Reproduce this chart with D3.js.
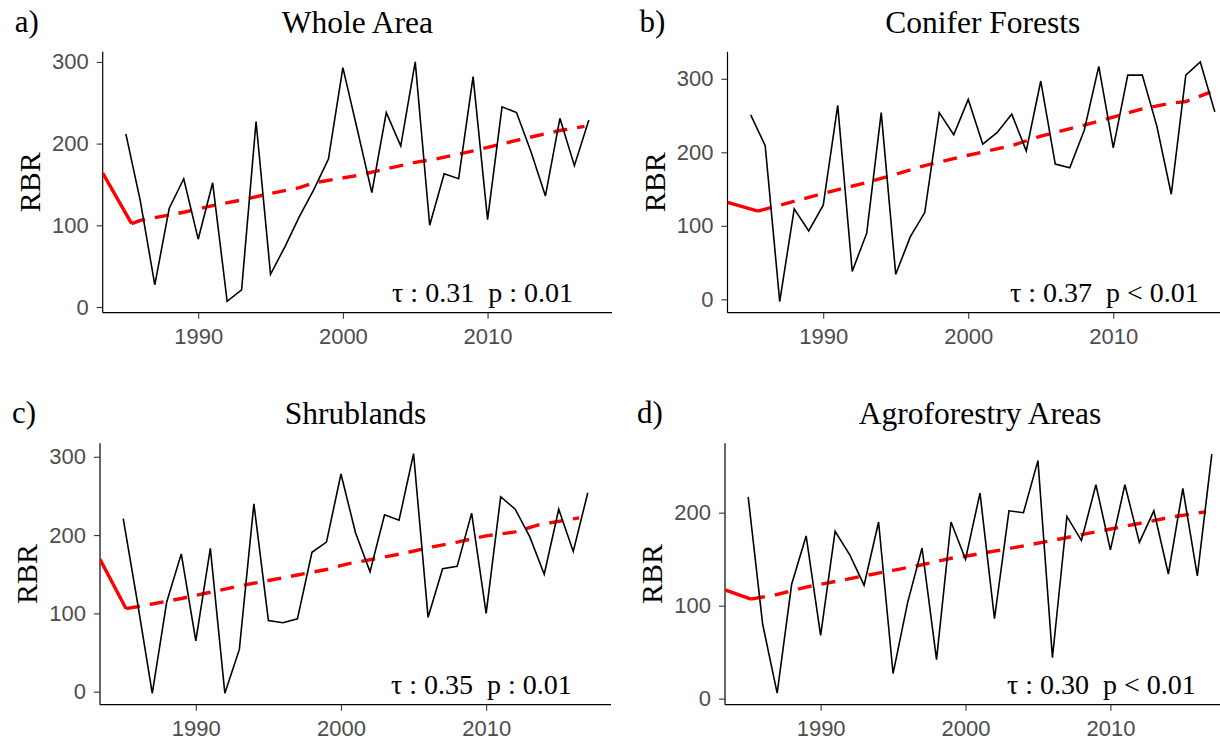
<!DOCTYPE html>
<html>
<head>
<meta charset="utf-8">
<script src="https://cdn.jsdelivr.net/npm/d3@7"></script>
<style>
  body { margin: 0; background: #fff; }
  svg { display: block; }
</style>
</head>
<body>
<div id="chart"></div>
<script>
// ---- data ----
var years = [1985, 1986, 1987, 1988, 1989, 1990, 1991, 1992, 1993, 1994,
             1995, 1996, 1997, 1998, 1999, 2000, 2001, 2002, 2003, 2004,
             2005, 2006, 2007, 2008, 2009, 2010, 2011, 2012, 2013, 2014,
             2015, 2016, 2017];

var rbrWhole   = [212, 130, 27, 121, 157, 83, 152, 7, 21, 227,
                  40, 74, 111, 144, 181, 293, 217, 140, 238, 197,
                  300, 100, 163, 157, 282, 107, 245, 238, 190, 136,
                  231, 173, 229];
var rbrConifer = [251, 209, -3, 123, 93, 128, 264, 38, 90, 254,
                  34, 85, 118, 254, 224, 272, 211, 227, 252, 202,
                  297, 184, 179, 230, 317, 206, 305, 305, 236, 143,
                  305, 323, 255];
var rbrShrub   = [221, 112, -2, 115, 176, 65, 183, -2, 54, 240,
                  91, 88, 93, 178, 191, 278, 203, 153, 226, 219,
                  304, 95, 157, 160, 228, 100, 249, 233, 198, 150,
                  233, 179, 254];
var rbrAgro    = [217, 80, 6, 123, 175, 68, 180, 155, 122, 190,
                  27, 103, 162, 42, 190, 150, 221, 86, 202, 200,
                  256, 44, 196, 170, 230, 160, 230, 168, 202, 134,
                  226, 132, 263];

// trend line (red), [year, RBR]; first leg solid, the rest dashed
var trendWhole   = [[1983.4, 164], [1985.4, 102], [1986, 106], [1989, 116], [1991, 124], [1993, 131],
                    [1995, 139], [1997, 146], [1998, 152], [2001, 161], [2005, 177], [2006.4, 181],
                    [2009, 191], [2012, 204], [2015, 216], [2016.7, 221]];
var trendConifer = [[1983.4, 132], [1985.5, 120], [1987, 128], [1990, 144], [1993, 159], [1995, 170],
                    [1997, 182], [2000, 196], [2003, 209], [2005, 222], [2008, 237], [2010, 248],
                    [2012, 259], [2014, 267], [2015, 269], [2016.7, 282]];
var trendShrub   = [[1983.4, 169], [1985.2, 106], [1987, 112], [1989, 119], [1991, 127], [1993, 135],
                    [1995, 142], [1997, 149], [1999, 156], [2000.4, 163], [2004.4, 177], [2006.3, 185],
                    [2008, 191], [2010, 199], [2012, 204], [2013.6, 213], [2016.4, 222]];
var trendAgro    = [[1983.4, 117], [1985.2, 107], [1987, 112], [1989, 120], [1991, 126], [1993, 132],
                    [1995, 138], [1997, 144], [1999, 151], [2000.3, 154], [2002.5, 160], [2004.6, 166],
                    [2006.6, 172], [2008.2, 177], [2010.2, 183], [2012.2, 189], [2014.1, 195], [2016.6, 201]];

var panelTags   = ["a)", "b)", "c)", "d)"];
var panelTitles = ["Whole Area", "Conifer Forests", "Shrublands", "Agroforestry Areas"];
var tauTexts    = ["\u03c4 : 0.31  p : 0.01", "\u03c4 : 0.37  p < 0.01", "\u03c4 : 0.35  p : 0.01", "\u03c4 : 0.30  p < 0.01"];
var xTicks = [1990, 2000, 2010];
var yTicksFull = [0, 100, 200, 300];
var yTicksAgro = [0, 100, 200];

// ---- layout ----
var W = 1220, H = 741;
var panels = [
  { values: rbrWhole,   trend: trendWhole,   yTicks: yTicksFull, yDom: [-7, 312.5],
    left: 102.7, right: 612, top: 51.7, bottom: 312.7 },
  { values: rbrConifer, trend: trendConifer, yTicks: yTicksFull, yDom: [-18.2, 336.9],
    left: 727.5, right: 1238, top: 51.7, bottom: 312.7 },
  { values: rbrShrub,   trend: trendShrub,   yTicks: yTicksFull, yDom: [-16.6, 317.2],
    left: 100, right: 611, top: 443.3, bottom: 704.7 },
  { values: rbrAgro,    trend: trendAgro,    yTicks: yTicksAgro, yDom: [-6.5, 274.6],
    left: 725, right: 1235, top: 443.3, bottom: 704.7 }
];

var svg = d3.select("#chart").append("svg")
    .attr("width", W)
    .attr("height", H);

var serif = "'Liberation Serif', 'Times New Roman', serif";
var sans = "'Liberation Sans', Arial, sans-serif";

panels.forEach(function (p, i) {
    var x = d3.scaleLinear().domain([1983.4, 2018.6]).range([p.left, p.right]);
    var y = d3.scaleLinear().domain(p.yDom).range([p.bottom, p.top]);

    var g = svg.append("g");

    g.append("defs").append("clipPath")
        .attr("id", "clip" + i)
        .append("rect")
        .attr("x", p.left).attr("y", p.top)
        .attr("width", p.right - p.left).attr("height", p.bottom - p.top);

    // axes
    var yAxis = g.append("g")
        .attr("transform", "translate(" + p.left + ",0)")
        .call(d3.axisLeft(y).tickValues(p.yTicks).tickSize(6).tickPadding(8).tickFormat(d3.format("d")));
    var xAxis = g.append("g")
        .attr("transform", "translate(0," + p.bottom + ")")
        .call(d3.axisBottom(x).tickValues(xTicks).tickSize(6).tickPadding(10).tickFormat(d3.format("d")));

    [yAxis, xAxis].forEach(function (ax) {
        ax.select(".domain").attr("stroke", "#000").attr("stroke-width", 1.2);
        ax.selectAll(".tick line").attr("stroke", "#333").attr("stroke-width", 1.1);
        ax.selectAll(".tick text")
            .attr("fill", "#4d4d4d")
            .style("font-family", sans)
            .style("font-size", "22px");
    });
    // plain axis lines, no end caps
    yAxis.select(".domain").attr("d", "M0," + p.top + "V" + p.bottom);
    xAxis.select(".domain").attr("d", "M" + p.left + ",0H" + p.right);

    var line = d3.line()
        .x(function (d) { return x(d[0]); })
        .y(function (d) { return y(d[1]); });

    var series = years.map(function (yr, k) { return [yr, p.values[k]]; });

    var plot = g.append("g").attr("clip-path", "url(#clip" + i + ")");

    // red trend: solid first leg, dashed afterwards
    plot.append("path")
        .datum(p.trend.slice(0, 2))
        .attr("d", line)
        .attr("fill", "none")
        .attr("stroke", "#ff0000")
        .attr("stroke-width", 3.4);
    plot.append("path")
        .datum(p.trend.slice(1))
        .attr("d", line)
        .attr("fill", "none")
        .attr("stroke", "#ff0000")
        .attr("stroke-width", 3.4)
        .attr("stroke-dasharray", "14,10");

    // black series
    plot.append("path")
        .datum(series)
        .attr("d", line)
        .attr("fill", "none")
        .attr("stroke", "#000")
        .attr("stroke-width", 1.6)
        .attr("stroke-linejoin", "miter");

    // texts
    g.append("text")
        .attr("x", (p.left + p.right) / 2)
        .attr("y", p.top - 19)
        .attr("text-anchor", "middle")
        .style("font-family", serif)
        .style("font-size", "31.5px")
        .text(panelTitles[i]);

    g.append("text")
        .attr("x", p.left - 88)
        .attr("y", p.top - 20)
        .style("font-family", serif)
        .style("font-size", "31px")
        .text(panelTags[i]);

    g.append("text")
        .attr("transform", "translate(" + (p.left - 63) + "," + ((p.top + p.bottom) / 2) + ") rotate(-90)")
        .attr("text-anchor", "middle")
        .style("font-family", serif)
        .style("font-size", "30px")
        .text("RBR");

    g.append("text")
        .attr("x", x(2015.9))
        .attr("y", p.bottom - 11)
        .attr("text-anchor", "end")
        .attr("xml:space", "preserve")
        .style("white-space", "pre")
        .style("font-family", serif)
        .style("font-size", "28px")
        .text(tauTexts[i]);
});
</script>
</body>
</html>
